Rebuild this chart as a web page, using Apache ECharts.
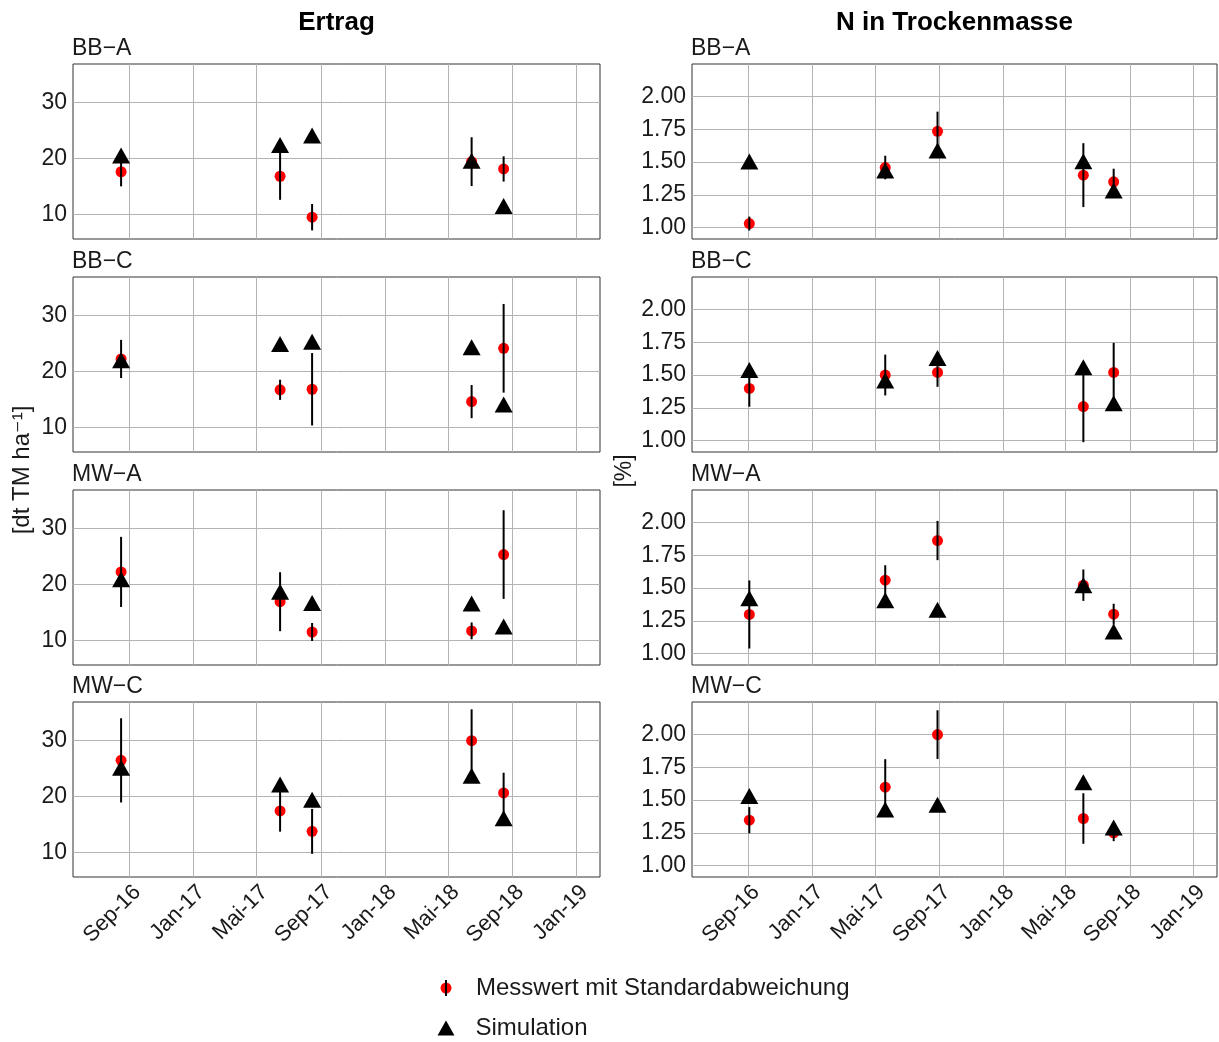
<!DOCTYPE html>
<html>
<head>
<meta charset="utf-8">
<script src="https://cdn.jsdelivr.net/npm/echarts@6/dist/echarts.min.js"></script>
<style>html,body{margin:0;padding:0;background:#fff}#c{width:1219px;height:1042px}</style>
</head>
<body>
<div id="c"></div>
<script>
// ---------- data ----------
const sites = ['BB−A', 'BB−C', 'MW−A', 'MW−C'];
const columnTitles = ['Ertrag', 'N in Trockenmasse'];
const xTickDates = ['2016-09-01','2017-01-01','2017-05-01','2017-09-01','2018-01-01','2018-05-01','2018-09-01','2019-01-01'];
const xTickLabels = ['Sep-16','Jan-17','Mai-17','Sep-17','Jan-18','Mai-18','Sep-18','Jan-19'];
const ertragTicks = [10, 20, 30];
const nTicks = [1.00, 1.25, 1.50, 1.75, 2.00];

const ertragDates = ['2016-08-16','2017-06-15','2017-08-15','2018-06-15','2018-08-15'];
const nDates      = ['2016-09-03','2017-05-21','2017-08-29','2018-06-04','2018-08-01'];

// Ertrag [dt TM ha-1]
const ertragMessBBA = [17.6, 16.8, 9.5, 19.4, 18.1];
const ertragSdBBA   = [2.6, 4.2, 2.35, 4.35, 2.25];
const ertragSimBBA  = [20.0, 21.9, 23.6, 19.1, 11.0];
const ertragMessBBC = [22.2, 16.7, 16.8, 14.6, 24.1];
const ertragSdBBC   = [3.4, 1.8, 6.45, 2.95, 7.9];
const ertragSimBBC  = [21.5, 24.4, 24.8, 23.8, 13.6];
const ertragMessMWA = [22.2, 16.9, 11.5, 11.7, 25.3];
const ertragSdMWA   = [6.25, 5.25, 1.6, 1.5, 7.9];
const ertragSimMWA  = [20.4, 18.2, 16.2, 16.1, 12.0];
const ertragMessMWC = [26.4, 17.4, 13.75, 29.9, 20.6];
const ertragSdMWC   = [7.5, 3.7, 4.0, 5.6, 3.6];
const ertragSimMWC  = [24.6, 21.6, 18.9, 23.2, 15.6];

// N in Trockenmasse [%]
const nMessBBA = [1.03, 1.458, 1.735, 1.40, 1.349];
const nSdBBA   = [0.053, 0.09, 0.15, 0.244, 0.10];
const nSimBBA  = [1.483, 1.415, 1.567, 1.486, 1.262];
const nMessBBC = [1.398, 1.50, 1.52, 1.259, 1.52];
const nSdBBC   = [0.14, 0.156, 0.11, 0.272, 0.226];
const nSimBBC  = [1.518, 1.437, 1.609, 1.538, 1.264];
const nMessMWA = [1.298, 1.56, 1.863, 1.522, 1.30];
const nSdMWA   = [0.26, 0.114, 0.15, 0.12, 0.08];
const nSimMWA  = [1.402, 1.387, 1.313, 1.50, 1.148];
const nMessMWC = [1.346, 1.598, 2.00, 1.359, 1.25];
const nSdMWC   = [0.10, 0.214, 0.186, 0.193, 0.064];
const nSimMWC  = [1.511, 1.407, 1.443, 1.616, 1.27];

// ---------- build ----------
const ertragMess = [ertragMessBBA, ertragMessBBC, ertragMessMWA, ertragMessMWC];
const ertragSd   = [ertragSdBBA, ertragSdBBC, ertragSdMWA, ertragSdMWC];
const ertragSim  = [ertragSimBBA, ertragSimBBC, ertragSimMWA, ertragSimMWC];
const nMess = [nMessBBA, nMessBBC, nMessMWA, nMessMWC];
const nSd   = [nSdBBA, nSdBBC, nSdMWA, nSdMWC];
const nSim  = [nSimBBA, nSimBBC, nSimMWA, nSimMWC];

const ts = d => Date.parse(d + 'T00:00:00Z');
const DAY = 86400000;
const xTickTs = xTickDates.map(ts);
const xMin = ts('2016-07-01') - 45.65 * DAY;
const xMax = ts('2018-12-31') + 45.65 * DAY;

const FONT = '"Liberation Sans", Arial, "DejaVu Sans", sans-serif';
const colLeft = [73, 692];
const colWidth = [527, 525];
const rowTop = [64, 277, 490, 702];
const rowH = 175;
const yRange = [[5.62, 36.8], [0.912, 2.249]];

const grids = [], xAxes = [], yAxes = [], series = [], graphics = [];
const MESS = 'Messwert mit Standardabweichung', SIM = 'Simulation';

for (let c = 0; c < 2; c++) {
  graphics.push({type:'text', x: colLeft[c] + colWidth[c] / 2, y: 23, z: 10,
    style:{text: columnTitles[c], font: 'bold 26px ' + FONT, fill:'#000', textAlign:'center', textVerticalAlign:'middle'}});
  for (let r = 0; r < 4; r++) {
    const gi = grids.length;
    grids.push({left: colLeft[c], top: rowTop[r], width: colWidth[c], height: rowH,
      show: true, borderColor: '#333', borderWidth: 1, backgroundColor: '#fff'});
    const bottom = r === 3;
    xAxes.push({type:'value', gridIndex: gi, min: xMin, max: xMax,
      axisLine:{show:false},
      axisTick:{show:false, customValues: xTickTs},
      splitLine:{show:true, lineStyle:{color:'#b3b3b3', width:1}},
      axisLabel:{show: bottom, customValues: xTickTs, rotate: 45, margin: 4, verticalAlign: 'top',
        fontSize: 22, color:'#1a1a1a', fontFamily: FONT,
        formatter: v => { const i = xTickTs.indexOf(v); return i >= 0 ? xTickLabels[i] : ''; }}
    });
    const ticks = c === 0 ? ertragTicks : nTicks;
    yAxes.push({type:'value', gridIndex: gi, min: yRange[c][0], max: yRange[c][1],
      axisLine:{show:false},
      axisTick:{show:false, customValues: ticks},
      splitLine:{show:true, lineStyle:{color:'#b3b3b3', width:1}},
      axisLabel:{customValues: ticks, margin: 6, fontSize: 23, color:'#1a1a1a', fontFamily: FONT,
        formatter: v => c === 0 ? String(Math.round(v)) : v.toFixed(2)}
    });
    graphics.push({type:'text', x: colLeft[c] - 1, y: rowTop[r] - 15, z: 10,
      style:{text: sites[r], font: '23px ' + FONT, fill:'#1a1a1a', textVerticalAlign:'middle'}});

    const dates = (c === 0 ? ertragDates : nDates).map(ts);
    const mess = c === 0 ? ertragMess[r] : nMess[r];
    const sd = c === 0 ? ertragSd[r] : nSd[r];
    const sim = c === 0 ? ertragSim[r] : nSim[r];

    series.push({type:'scatter', name: MESS, xAxisIndex: gi, yAxisIndex: gi, z: 2,
      symbol:'circle', symbolSize: 11, itemStyle:{color:'#ff0000', opacity: 1},
      data: dates.map((d, i) => [d, mess[i]])});
    series.push({type:'custom', name:'sd', xAxisIndex: gi, yAxisIndex: gi, z: 3, clip: false,
      encode:{x:0, y:[1,2]},
      data: dates.map((d, i) => [d, mess[i] - sd[i], mess[i] + sd[i]]),
      renderItem: (params, api) => {
        const p1 = api.coord([api.value(0), api.value(1)]);
        const p2 = api.coord([api.value(0), api.value(2)]);
        return {type:'line', shape:{x1:p1[0], y1:p1[1], x2:p2[0], y2:p2[1]},
          style:{stroke:'#000', lineWidth: 2}};
      }});
    series.push({type:'scatter', name: SIM, xAxisIndex: gi, yAxisIndex: gi, z: 4,
      symbol:'triangle', symbolSize:[18, 16], symbolOffset:[0, -2.7], itemStyle:{color:'#000', opacity: 1},
      data: dates.map((d, i) => [d, sim[i]])});
  }
}

graphics.push({type:'text', x: 22, y: 470, rotation: Math.PI / 2, z: 10,
  style:{text:'[dt TM ha⁻¹]', font: '24px ' + FONT, fill:'#1a1a1a', textAlign:'center', textVerticalAlign:'middle'}});
graphics.push({type:'text', x: 625, y: 471, rotation: Math.PI / 2, z: 10,
  style:{text:'[%]', font: '23px ' + FONT, fill:'#1a1a1a', textAlign:'center', textVerticalAlign:'middle'}});

const messIcon = 'image://data:image/svg+xml;charset=utf-8,' + encodeURIComponent(
  '<svg xmlns="http://www.w3.org/2000/svg" width="20" height="20" viewBox="0 0 20 20">' +
  '<circle cx="10" cy="10" r="5.5" fill="#ff0000"/>' +
  '<line x1="10" y1="2" x2="10" y2="18" stroke="#000" stroke-width="2"/></svg>');

const legendText = {fontSize: 24, color:'#1a1a1a', fontFamily: FONT};
const option = {
  animation: false,
  backgroundColor: '#fff',
  grid: grids, xAxis: xAxes, yAxis: yAxes, series: series,
  legend: [
    {orient:'vertical', left: 436, top: 976, padding: 0, itemWidth: 20, itemHeight: 20,
      selectedMode: false, textStyle: Object.assign({padding:[0,0,0,15]}, legendText),
      data:[{name: MESS, icon: messIcon}]},
    {orient:'vertical', left: 437.5, top: 1016, padding: 0, itemWidth: 17, itemHeight: 15,
      selectedMode: false, textStyle: Object.assign({padding:[0,0,0,16]}, legendText),
      data:[{name: SIM, icon: 'triangle', itemStyle:{color:'#000'}}]}
  ],
  graphic: graphics
};

const chart = echarts.init(document.getElementById('c'), null, {renderer:'canvas'});
chart.setOption(option);
</script>
</body>
</html>
